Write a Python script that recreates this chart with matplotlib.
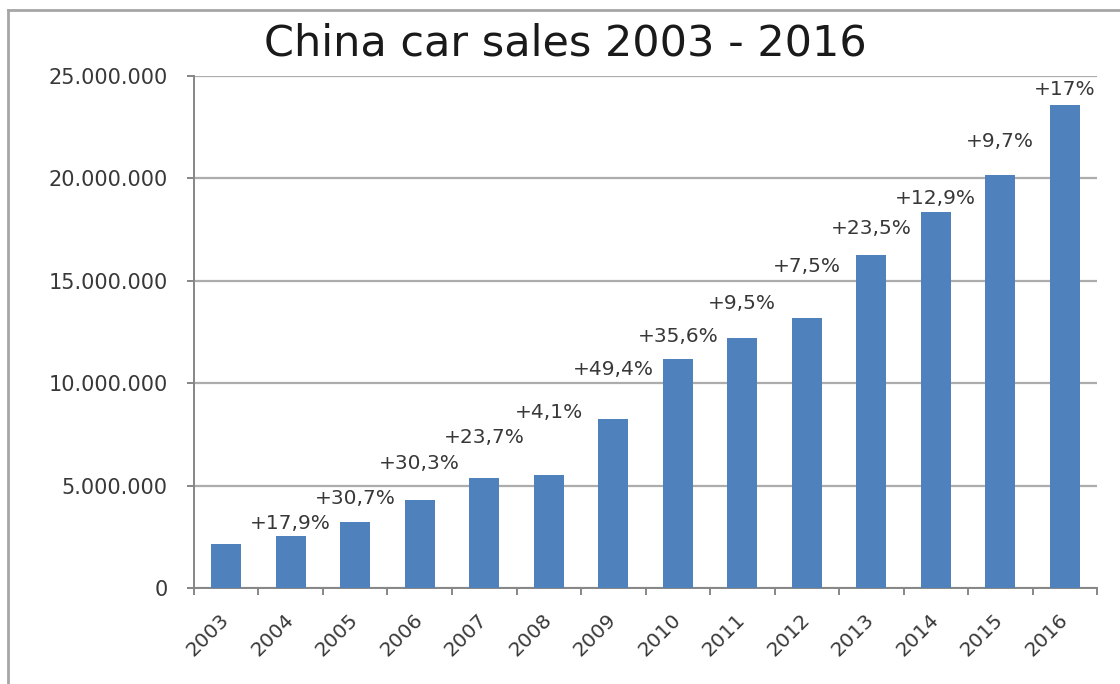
import matplotlib
matplotlib.use("Agg")
import matplotlib.pyplot as plt
from matplotlib.lines import Line2D
from matplotlib.ticker import FuncFormatter, MultipleLocator

plt.rcParams["font.family"] = ["DejaVu Sans"]

years = ["2003", "2004", "2005", "2006", "2007", "2008", "2009",
         "2010", "2011", "2012", "2013", "2014", "2015", "2016"]
sales = [2.13e6, 2.54e6, 3.24e6, 4.30e6, 5.36e6, 5.52e6, 8.24e6,
         11.18e6, 12.20e6, 13.18e6, 16.26e6, 18.36e6, 20.17e6, 23.58e6]
growth = ["", "+17,9%", "+30,7%", "+30,3%", "+23,7%", "+4,1%", "+49,4%",
          "+35,6%", "+9,5%", "+7,5%", "+23,5%", "+12,9%", "+9,7%", "+17%"]
# distance (points) from bar top to label centre, as placed in the original
label_gap = [0, 9, 17, 26, 29, 45, 36, 16, 25, 37, 19, 10, 24, 11]

BLUE = "#4F81BD"
GREY = "#383838"

fig = plt.figure(figsize=(11.2, 6.84), dpi=100)
ax = fig.add_axes([0.1732, 0.1404, 0.8063, 0.7485])

x = range(len(years))
ax.bar(x, sales, width=0.47, color=BLUE, zorder=3)

for xi, v, g, off in zip(x, sales, growth, label_gap):
    if g:
        ax.annotate(g, (xi, v), xytext=(0, off), textcoords="offset points",
                    ha="center", va="center", fontsize=14.5, color=GREY, zorder=4)

ax.set_xlim(-0.5, len(years) - 0.5)
ax.set_ylim(0, 25e6)
ax.yaxis.set_major_locator(MultipleLocator(5e6))
ax.yaxis.set_major_formatter(FuncFormatter(lambda v, p: f"{int(v):,}".replace(",", ".")))
ax.grid(axis="y", color="#acacac", lw=1.6, zorder=0)

ax.set_xticks([i - 0.5 for i in range(len(years) + 1)], minor=False)
ax.set_xticklabels([])
ax.set_xticks(list(x), minor=True)
ax.set_xticklabels(years, minor=True, rotation=45, ha="right", va="center",
                   rotation_mode="anchor", fontsize=14.5, color=GREY)
ax.tick_params(axis="x", which="minor", length=0, pad=21)
ax.tick_params(axis="x", which="major", length=5, width=1.4, color="#868686")
ax.tick_params(axis="y", length=5, width=1.4, color="#868686", labelsize=15,
               labelcolor=GREY, pad=14)

for s in ("top", "right"):
    ax.spines[s].set_visible(False)
for s in ("left", "bottom"):
    ax.spines[s].set_color("#868686")
    ax.spines[s].set_linewidth(1.4)

fig.text(0.505, 0.936, "China car sales 2003 - 2016", ha="center", va="center",
         fontsize=31, color="#1a1a1a")

# outer chart frame (left and top edges visible in the crop)
fx, fy = 8 / 1120, 1 - 10 / 684
fig.add_artist(Line2D([fx, fx], [0, fy], color="#a6a6a6", lw=2))
fig.add_artist(Line2D([fx, 1], [fy, fy], color="#a6a6a6", lw=2))

fig.savefig("out.png", dpi=100)
